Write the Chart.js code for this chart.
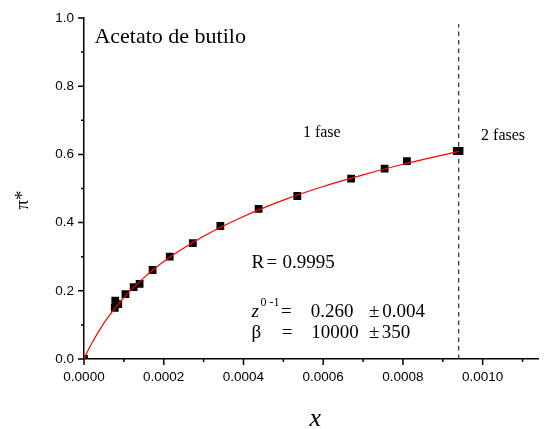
<!DOCTYPE html>
<html>
<head>
<meta charset="utf-8">
<script src="https://cdn.jsdelivr.net/npm/chart.js@4/dist/chart.umd.min.js"></script>
<style>
html,body{margin:0;padding:0;background:#fff;}
#wrap{width:544px;height:429px;}
</style>
</head>
<body>
<div id="wrap"><canvas id="c" width="544" height="429"></canvas></div>
<script>
// ---- data ----
const pointX = [0, 0.0000772, 0.0000784, 0.0000859, 0.000104, 0.0001245, 0.0001395, 0.000172, 0.000215, 0.000273, 0.000342, 0.000438, 0.000535, 0.000670, 0.000754, 0.000810, 0.000935, 0.000942];
const pointY = [0, 0.150, 0.171, 0.161, 0.190, 0.211, 0.220, 0.261, 0.300, 0.340, 0.390, 0.440, 0.478, 0.529, 0.558, 0.580, 0.610, 0.610];

const curveX = [0, 0.00001, 0.00002, 0.00004, 0.00006, 0.0001, 0.00015, 0.0002, 0.0003, 0.0004, 0.0005, 0.0006, 0.0007, 0.0008, 0.00094];
const curveY = [0, 0.025, 0.047, 0.087, 0.122, 0.180, 0.238, 0.286, 0.360, 0.418, 0.466, 0.506, 0.540, 0.571, 0.609];

const boundaryX = [0.00094, 0.00094];
const boundaryY = [0, 0.982];

const xMajorTicks = [0, 0.0002, 0.0004, 0.0006, 0.0008, 0.0010];
const xTickLabels = ["0.0000", "0.0002", "0.0004", "0.0006", "0.0008", "0.0010"];
const xMinorTicks = [0.0001, 0.0003, 0.0005, 0.0007, 0.0009, 0.0011];
const yMajorTicks = [0, 0.2, 0.4, 0.6, 0.8, 1.0];
const yTickLabels = ["0.0", "0.2", "0.4", "0.6", "0.8", "1.0"];
const yMinorTicks = [0.1, 0.3, 0.5, 0.7, 0.9];

const xMin = 0, xMax = 0.00114, yMin = 0, yMax = 1.0;

// annotation texts anchored in data units
const notes = [
  {t: "Acetato de butilo", x: 0.0000262, y: 0.927, size: 22},
  {t: "1 fase", x: 0.000549, y: 0.652, size: 16},
  {t: "2 fases", x: 0.000996, y: 0.642, size: 16},
  {t: "R", x: 0.000420, y: 0.266, size: 19},
  {t: "=", x: 0.000458, y: 0.266, size: 19},
  {t: "0.9995", x: 0.000498, y: 0.266, size: 19},
  {t: "z", x: 0.000420, y: 0.122, size: 19, italic: true},
  {t: "0 -1", x: 0.000443, y: 0.155, size: 12},
  {t: "=", x: 0.000494, y: 0.122, size: 19},
  {t: "0.260", x: 0.000569, y: 0.122, size: 19},
  {t: "\u00b1", x: 0.000715, y: 0.122, size: 19},
  {t: "0.004", x: 0.000748, y: 0.122, size: 19},
  {t: "\u03b2", x: 0.000420, y: 0.0607, size: 19},
  {t: "=", x: 0.000496, y: 0.0607, size: 19},
  {t: "10000", x: 0.000570, y: 0.0607, size: 19},
  {t: "\u00b1", x: 0.000715, y: 0.0607, size: 19},
  {t: "350", x: 0.000747, y: 0.0607, size: 19}
];

const toXY = (xs, ys) => xs.map((v, i) => ({x: v, y: ys[i]}));

const tickPlugin = {
  id: 'ticksAndText',
  afterDraw(chart) {
    const ctx = chart.ctx;
    const xs = chart.scales.x, ys = chart.scales.y;
    const ca = chart.chartArea;
    ctx.save();
    ctx.strokeStyle = '#000';
    ctx.lineWidth = 1.5;
    ctx.beginPath();
    yMajorTicks.forEach(v => { const p = ys.getPixelForValue(v); ctx.moveTo(ca.left - 6, p); ctx.lineTo(ca.left, p); });
    yMinorTicks.forEach(v => { const p = ys.getPixelForValue(v); ctx.moveTo(ca.left - 3, p); ctx.lineTo(ca.left, p); });
    xMajorTicks.forEach(v => { const p = xs.getPixelForValue(v); ctx.moveTo(p, ca.bottom); ctx.lineTo(p, ca.bottom + 6); });
    xMinorTicks.forEach(v => { const p = xs.getPixelForValue(v); ctx.moveTo(p, ca.bottom); ctx.lineTo(p, ca.bottom + 3); });
    ctx.stroke();

    ctx.fillStyle = '#000';
    ctx.textBaseline = 'alphabetic';
    ctx.textAlign = 'left';
    notes.forEach(n => {
      ctx.font = (n.italic ? 'italic ' : '') + n.size + 'px "Liberation Serif", "Times New Roman", serif';
      ctx.fillText(n.t, xs.getPixelForValue(n.x), ys.getPixelForValue(n.y));
    });

    // axis titles
    ctx.textAlign = 'center';
    ctx.font = 'italic 26px "Liberation Serif", serif';
    ctx.fillText('x', (ca.left + ca.right) / 2 + 4, 426);
    ctx.save();
    ctx.translate(28, 200);
    ctx.rotate(-Math.PI / 2);
    ctx.font = '19px "Liberation Serif", serif';
    ctx.fillText('\u03c0*', 0, 0);
    ctx.restore();
    ctx.restore();
  }
};

new Chart(document.getElementById('c'), {
  type: 'scatter',
  data: {
    datasets: [
      {
        data: toXY(curveX, curveY),
        showLine: true,
        borderColor: '#ff0000',
        borderWidth: 1.2,
        pointRadius: 0,
        cubicInterpolationMode: 'monotone',
        fill: false,
        order: 0
      },
      {
        data: toXY(pointX, pointY),
        pointStyle: 'rect',
        pointRadius: 5.5,
        pointBackgroundColor: '#000',
        pointBorderColor: '#000',
        pointBorderWidth: 0,
        showLine: false,
        clip: 0,
        order: 1
      },
      {
        data: toXY(boundaryX, boundaryY),
        showLine: true,
        borderColor: '#000',
        borderWidth: 1,
        borderDash: [4.5, 4],
        pointRadius: 0,
        clip: false,
        order: 2
      }
    ]
  },
  options: {
    responsive: false,
    animation: false,
    events: [],
    layout: {padding: {top: 18, right: 1, left: 0, bottom: 0}},
    plugins: {legend: {display: false}, tooltip: {enabled: false}, title: {display: false}},
    scales: {
      x: {
        type: 'linear',
        min: xMin, max: xMax,
        grid: {display: false, drawTicks: true, tickLength: 6},
        border: {display: true, color: '#000', width: 1.5},
        afterBuildTicks: s => { s.ticks = xMajorTicks.map(v => ({value: v})); },
        afterFit: s => { s.height = 70; },
        ticks: {
          color: '#000',
          padding: 4,
          maxRotation: 0,
          autoSkip: false,
          font: {family: '"Liberation Sans", Arial, sans-serif', size: 13.5},
          callback: (v, i) => xTickLabels[i]
        }
      },
      y: {
        type: 'linear',
        min: yMin, max: yMax,
        grid: {display: false, drawTicks: true, tickLength: 6},
        border: {display: true, color: '#000', width: 1.5},
        afterBuildTicks: s => { s.ticks = yMajorTicks.map(v => ({value: v})); },
        afterFit: s => { s.width = 84; },
        ticks: {
          color: '#000',
          padding: 4,
          autoSkip: false,
          font: {family: '"Liberation Sans", Arial, sans-serif', size: 13.5},
          callback: (v, i) => yTickLabels[i]
        }
      }
    }
  },
  plugins: [tickPlugin]
});
</script>
</body>
</html>
